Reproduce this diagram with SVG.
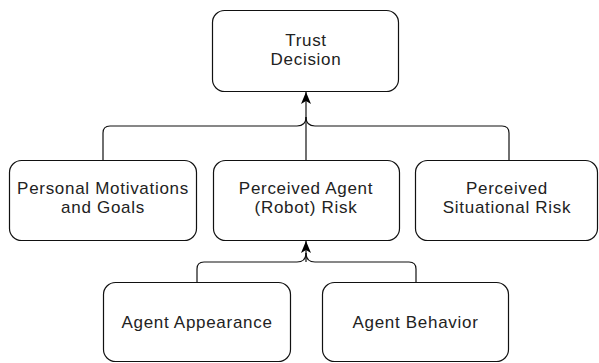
<svg xmlns="http://www.w3.org/2000/svg" width="599" height="363" viewBox="0 0 599 363">
<style>
.box{fill:#fff;stroke:#111;stroke-width:1.2}
.lbl{font-family:"Liberation Sans",Arial,Helvetica,sans-serif;font-size:17px;letter-spacing:0.7px;fill:#222;text-anchor:middle}
.edge{fill:none;stroke:#111;stroke-width:1.2}
</style>
<defs>
<marker id="arr" viewBox="0 0 12 10" refX="12" refY="5" markerWidth="12" markerHeight="10" markerUnits="userSpaceOnUse" orient="auto">
<path d="M0,0 L12,5 L0,10 L3,5 Z" fill="#000"/>
</marker>
</defs>
<g id="connectors">
<path class="edge" d="M103,160 L103,133 Q103,126 110,126 L297,126 Q306,126 306,117"/>
<path class="edge" d="M509,160 L509,133 Q509,126 502,126 L315,126 Q306,126 306,117"/>
<path class="edge" d="M306,160 L306,92" marker-end="url(#arr)"/>
<path class="edge" d="M197,282 L197,269 Q197,262 204,262 L297,262 Q306,262 306,253"/>
<path class="edge" d="M416,282 L416,269 Q416,262 409,262 L315,262 Q306,262 306,253"/>
<path class="edge" d="M306,262 L306,241" marker-end="url(#arr)"/>
</g>
<g id="trust">
<rect class="box" x="212.5" y="10.5" width="186" height="81" rx="12"/>
<text class="lbl" x="306" y="46">Trust</text>
<text class="lbl" x="306" y="65">Decision</text>
</g>
<g id="personal">
<rect class="box" x="9.5" y="160.5" width="187" height="80" rx="12"/>
<text class="lbl" x="103" y="194">Personal Motivations</text>
<text class="lbl" x="103" y="213">and Goals</text>
</g>
<g id="agentrisk">
<rect class="box" x="213.5" y="160.5" width="186" height="80" rx="12"/>
<text class="lbl" x="306" y="194">Perceived Agent</text>
<text class="lbl" x="306" y="213">(Robot) Risk</text>
</g>
<g id="situational">
<rect class="box" x="415.5" y="160.5" width="182" height="80" rx="12"/>
<text class="lbl" x="507" y="194">Perceived</text>
<text class="lbl" x="507" y="213">Situational Risk</text>
</g>
<g id="appearance">
<rect class="box" x="103.5" y="282.5" width="187" height="79" rx="12"/>
<text class="lbl" x="197" y="328">Agent Appearance</text>
</g>
<g id="behavior">
<rect class="box" x="322.5" y="282.5" width="186" height="79" rx="12"/>
<text class="lbl" x="415.5" y="328">Agent Behavior</text>
</g>
</svg>
